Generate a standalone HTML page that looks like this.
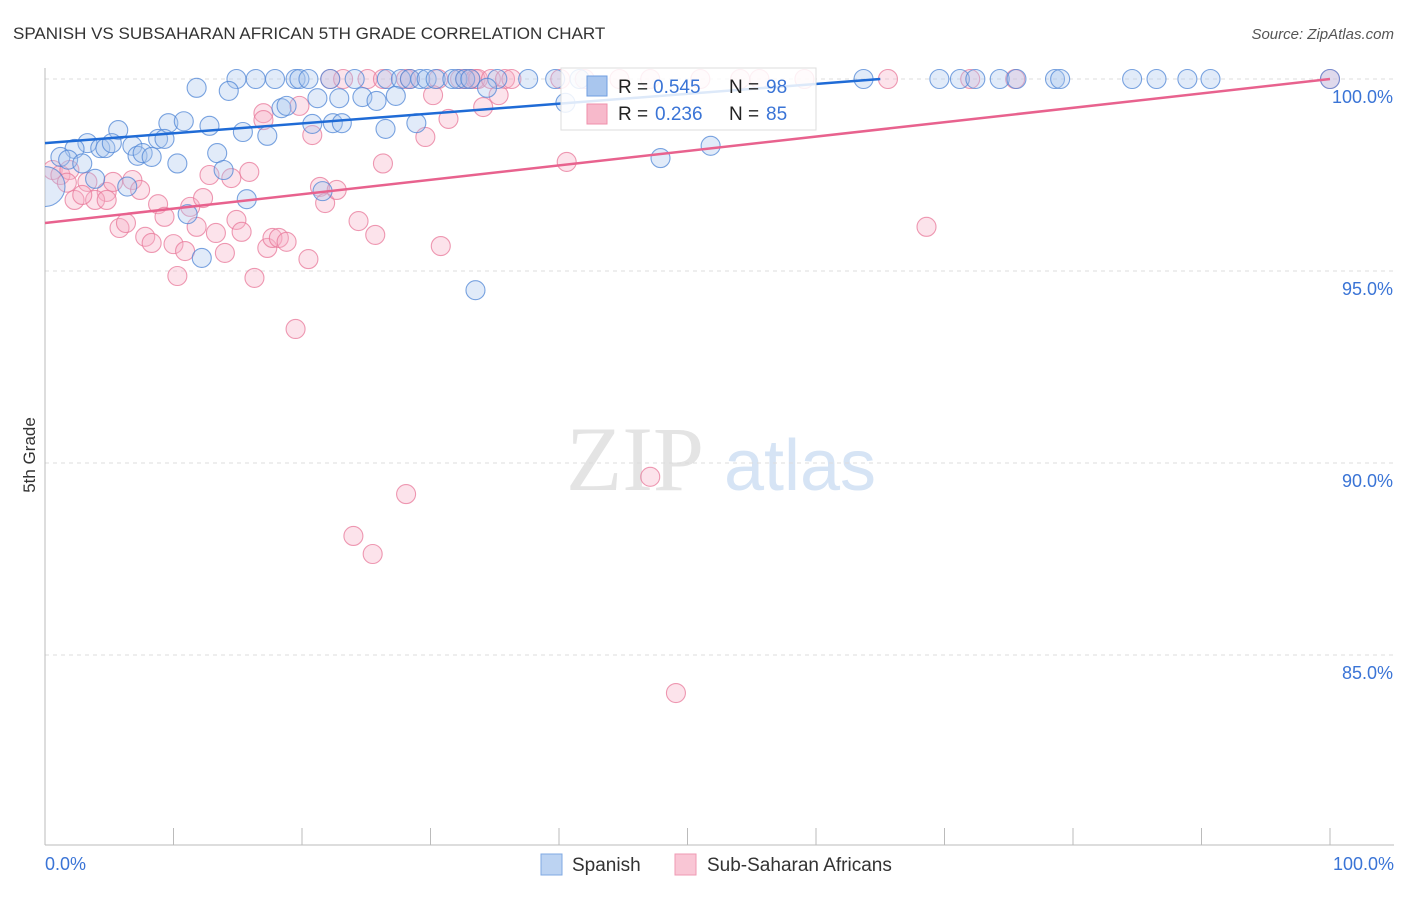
<!DOCTYPE html>
<html><head><meta charset="utf-8"><style>
body{margin:0;background:#fff;font-family:"Liberation Sans",sans-serif}
svg text{font-family:"Liberation Sans",sans-serif}
</style></head><body>
<svg id="chart" width="1406" height="892">
<defs><clipPath id="plotclip"><rect x="45" y="60" width="1360" height="785"/></clipPath></defs>
<text x="13" y="39" font-size="17" fill="#333">SPANISH VS SUBSAHARAN AFRICAN 5TH GRADE CORRELATION CHART</text>
<text x="1394" y="39" font-size="15" fill="#555" text-anchor="end" font-style="italic">Source: ZipAtlas.com</text>
<text x="35" y="455" font-size="17" fill="#333" transform="rotate(-90 35 455)" text-anchor="middle">5th Grade</text>
<g><text x="635" y="490" font-size="92" fill="#e4e4e4" text-anchor="middle" style="font-family:'Liberation Serif',serif">ZIP</text><text x="800" y="490" font-size="72" fill="#d6e4f5" text-anchor="middle">atlas</text></g>
<g id="grid"></g><g id="axes"></g><g id="pts" clip-path="url(#plotclip)"></g><g id="lines"></g>
<g>
<rect x="561" y="68" width="255" height="62" fill="#fff" fill-opacity="0.85" stroke="#ddd"/>
<rect x="587" y="76" width="20" height="20" fill="#a9c6ee" stroke="#6f9ee0"/>
<rect x="587" y="104" width="20" height="20" fill="#f7b9cb" stroke="#ef8fab"/>
<text x="618" y="93" font-size="19" fill="#222">R =</text><text x="653" y="93" font-size="19" fill="#3a74d6">0.545</text>
<text x="729" y="93" font-size="19" fill="#222">N =</text><text x="766" y="93" font-size="19" fill="#3a74d6">98</text>
<text x="618" y="120" font-size="19" fill="#222">R =</text><text x="655" y="120" font-size="19" fill="#3a74d6">0.236</text>
<text x="729" y="120" font-size="19" fill="#222">N =</text><text x="766" y="120" font-size="19" fill="#3a74d6">85</text>
</g>
<g>
<rect x="541" y="854" width="21" height="21" fill="#bcd3f2" stroke="#7fa8e3"/>
<text x="572" y="871" font-size="19" fill="#333">Spanish</text>
<rect x="675" y="854" width="21" height="21" fill="#f9c6d5" stroke="#ef9ab3"/>
<text x="707" y="871" font-size="19" fill="#333">Sub-Saharan Africans</text>
</g>
</svg>
<script>
const yTicks=[100,95,90,85];
const xTickLabels=["0.0%","100.0%"];
const blueX=[14.9,16.4,17.9,19.5,19.8,20.5,22.2,24.1,26.6,27.7,28.4,29.2,29.7,30.4,31.7,32.1,32.7,33.1,35.2,37.6,39.7,41.6,63.7,69.6,71.2,72.4,74.3,75.6,78.6,79.0,84.6,86.5,88.9,90.7,100,
11.8,14.3,18.4,18.8,21.2,22.9,24.7,25.8,27.3,34.4,5.7,9.6,10.8,12.8,15.4,17.3,20.8,22.4,23.1,26.5,28.9,
3.3,2.3,4.3,4.7,5.2,6.8,7.2,7.6,8.3,8.8,9.3,1.2,1.8,2.9,10.3,13.4,13.9,3.9,6.4,15.7,21.6,11.1,12.2,33.5,47.9,51.8,40.5,0.0];
const blueY=[100,100,100,100,100,100,100,100,100,100,100,100,100,100,100,100,100,100,100,100,100,100,100,100,100,100,100,100,100,100,100,100,100,100,100,
99.77,99.69,99.24,99.3,99.5,99.5,99.53,99.43,99.56,99.77,98.67,98.85,98.9,98.78,98.62,98.52,98.83,98.85,98.85,98.7,98.85,
98.33,98.18,98.2,98.2,98.33,98.26,98.0,98.07,97.97,98.44,98.44,97.97,97.9,97.8,97.8,98.07,97.63,97.4,97.2,96.87,97.08,96.48,95.34,94.5,97.94,98.26,99.38,97.2];
const pinkX=[22.2,23.2,25.1,26.3,28.1,28.4,30.6,32.3,32.7,33.1,33.5,33.7,34.7,35.8,36.3,40.1,42.0,44.7,47.1,51.0,54.1,55.6,59.1,65.6,72.0,75.5,100,
17.0,17.0,19.8,20.8,30.2,31.4,29.6,34.1,26.3,0.6,1.2,1.9,1.7,3.3,4.8,5.3,6.8,7.4,2.3,3.9,4.8,2.9,5.8,6.3,7.8,8.3,10.0,10.9,8.8,9.3,11.3,11.8,12.3,12.8,14.5,15.9,13.3,14.0,14.9,15.3,17.3,17.7,18.2,18.8,20.5,21.4,21.8,22.7,24.4,25.7,30.8,10.3,16.3,19.5,
40.6,68.6,47.1,28.1,24.0,25.5,49.1,35.3];
const pinkY=[100,100,100,100,100,100,100,100,100,100,100,100,100,100,100,100,100,100,100,100,100,100,100,100,100,100,100,
99.11,98.93,99.3,98.54,99.58,98.96,98.49,99.27,97.8,97.63,97.5,97.63,97.3,97.32,97.06,97.32,97.37,97.11,96.85,96.85,96.85,96.98,96.12,96.25,95.89,95.73,95.7,95.52,96.74,96.41,96.67,96.15,96.9,97.5,97.42,97.58,95.99,95.47,96.33,96.02,95.6,95.86,95.86,95.76,95.31,97.19,96.77,97.11,96.3,95.94,95.65,94.87,94.82,93.49,
97.84,96.15,89.64,89.19,88.1,87.63,84.01,99.58];
const blueTrend=[98.33,100.0,65];
const pinkTrend=[96.25,100.0,100];
const X=v=>45+v*12.85, Y=v=>79+(100-v)*38.4;
const NS="http://www.w3.org/2000/svg";
function mk(t,a,p){const e=document.createElementNS(NS,t);for(const k in a)e.setAttribute(k,a[k]);p.appendChild(e);return e;}
const grid=document.getElementById('grid'),axes=document.getElementById('axes'),pts=document.getElementById('pts'),lines=document.getElementById('lines');
yTicks.forEach(t=>{
 const l=mk('line',{x1:45,x2:1394,y1:Y(t),y2:Y(t),stroke:'#ddd','stroke-dasharray':'4,4'},grid);
 
 
 const tx=mk('text',{x:1393,y:Y(t)+24,'font-size':18,fill:'#3a74d6','text-anchor':'end'},axes);
 tx.textContent=t.toFixed(1)+'%';
 
 
});
const ya=mk('line',{x1:45,x2:45,y1:68,y2:845,stroke:'#bbb'},axes);


const xa=mk('line',{x1:45,x2:1394,y1:845,y2:845,stroke:'#bbb'},axes);


for(let i=0;i<=10;i++){const t=mk('line',{x1:X(i*10),x2:X(i*10),y1:828,y2:845,stroke:'#bbb'},axes);
 
 }
[[0,'start',45],[100,'end',1394]].forEach((d,i)=>{const t=mk('text',{x:d[2],y:870,'font-size':18,fill:'#3a74d6','text-anchor':d[1]},axes);t.textContent=xTickLabels[i];
 
 });
function dots(xs,ys,fill,stroke,name){xs.forEach((x,i)=>{const r=(x<0.2&&name==='spanish-point')?20:9.5;
 const c=mk('circle',{cx:X(x),cy:Y(ys[i]),r:r,fill:fill,'fill-opacity':0.35,stroke:stroke,'stroke-opacity':0.75,'stroke-width':1.1},pts);
 
 });}
dots(pinkX,pinkY,'#f7b0c5','#e8789a','subsaharan-point');
dots(blueX,blueY,'#a9c6ee','#4f86d6','spanish-point');
const bl=mk('line',{x1:X(0),y1:Y(blueTrend[0]),x2:X(blueTrend[2]),y2:Y(blueTrend[1]),stroke:'#1f6bd6','stroke-width':2.5},lines);


const pl=mk('line',{x1:X(0),y1:Y(pinkTrend[0]),x2:X(pinkTrend[2]),y2:Y(pinkTrend[1]),stroke:'#e8628e','stroke-width':2.5},lines);


</script>
</body></html>
